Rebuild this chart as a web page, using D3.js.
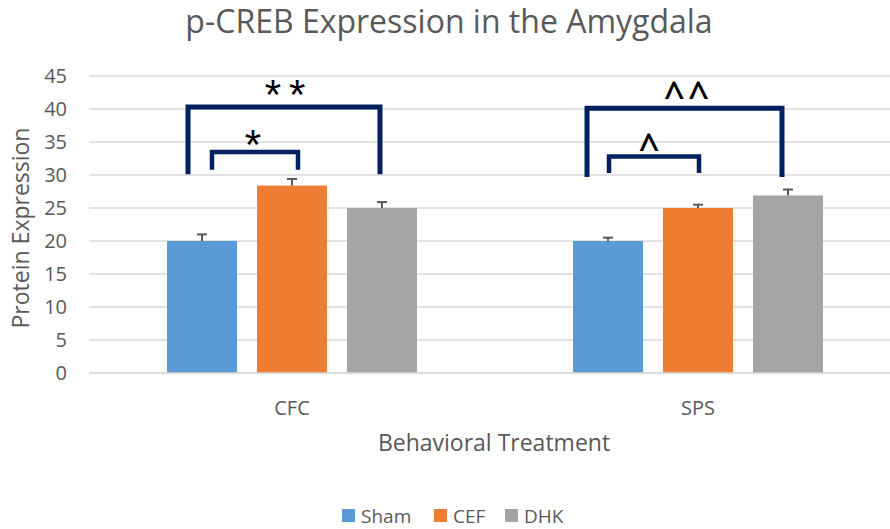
<!DOCTYPE html>
<html>
<head>
<meta charset="utf-8">
<script src="https://cdn.jsdelivr.net/npm/d3@7"></script>
<style>
  body { margin: 0; background: #fff; }
  svg { display: block; font-family: "Open Sans", sans-serif; }
</style>
</head>
<body>
<div id="chart"></div>
<script>
const width = 890;
const height = 529;

// data
const categories = ['CFC', 'SPS'];
const seriesNames = ['Sham', 'CEF', 'DHK'];
const seriesColors = ['#5B9BD5', '#ED7D31', '#A5A5A5'];
const shamValues = [20, 20];
const cefValues = [28.4, 25];
const dhkValues = [25, 26.9];
const shamErrors = [1, 0.5];
const cefErrors = [1, 0.5];
const dhkErrors = [0.9, 0.9];
const yTicks = [0, 5, 10, 15, 20, 25, 30, 35, 40, 45];

// significance brackets (levels in data units)
const bracketGroups = ['CFC', 'CFC', 'SPS', 'SPS'];
const bracketFrom = ['Sham', 'Sham', 'Sham', 'Sham'];
const bracketTo = ['DHK', 'CEF', 'DHK', 'CEF'];
const bracketTop = [40.3, 33.5, 40.1, 32.8];
const bracketBottom = [30.1, 30.8, 29.7, 30.3];
const bracketLabels = ['**', '*', '^^', '^'];

const allValues = [shamValues, cefValues, dhkValues];
const allErrors = [shamErrors, cefErrors, dhkErrors];

const rows = [];
categories.forEach((cat, i) => {
    seriesNames.forEach((s, j) => {
        rows.push({ cat: cat, series: s, value: allValues[j][i], err: allErrors[j][i], color: seriesColors[j] });
    });
});

const plotLeft = 89;
const plotRight = 901;
const plotTop = 76;
const plotBottom = 373;

const x0 = d3.scaleBand().domain(categories).range([plotLeft, plotRight]);
const x1 = d3.scaleBand().domain(seriesNames).range([0, x0.bandwidth()])
    .paddingInner(2 / 9).paddingOuter(0.867);
const yScale = d3.scaleLinear().domain([0, 45]).range([plotBottom, plotTop]);

const svg = d3.select('#chart').append('svg')
    .attr('width', width)
    .attr('height', height);

// gridlines
svg.append('g')
    .selectAll('line')
    .data(yTicks)
    .enter()
    .append('line')
    .attr('x1', plotLeft)
    .attr('x2', width)
    .attr('y1', d => yScale(d))
    .attr('y2', d => yScale(d))
    .attr('stroke', '#D9D9D9')
    .attr('stroke-width', 1.5);

// y axis labels
const yAxis = d3.axisLeft(yScale).tickValues(yTicks).tickSize(0).tickPadding(0);
const yAxisG = svg.append('g')
    .attr('transform', `translate(${plotLeft - 22}, 0)`)
    .call(yAxis);
yAxisG.select('.domain').remove();
yAxisG.selectAll('text')
    .style('font-family', '"Open Sans", sans-serif')
    .style('font-size', '20px')
    .attr('fill', '#595959');

// bars
svg.append('g')
    .selectAll('rect')
    .data(rows)
    .enter()
    .append('rect')
    .attr('x', d => x0(d.cat) + x1(d.series))
    .attr('y', d => yScale(d.value))
    .attr('width', x1.bandwidth())
    .attr('height', d => yScale(0) - yScale(d.value))
    .attr('fill', d => d.color);

// error bars (upper only)
const errG = svg.append('g').attr('stroke', '#595959').attr('stroke-width', 2);
rows.forEach(d => {
    const cx = x0(d.cat) + x1(d.series) + x1.bandwidth() / 2;
    errG.append('line')
        .attr('x1', cx).attr('x2', cx)
        .attr('y1', yScale(d.value)).attr('y2', yScale(d.value + d.err));
    errG.append('line')
        .attr('x1', cx - 5).attr('x2', cx + 5)
        .attr('y1', yScale(d.value + d.err)).attr('y2', yScale(d.value + d.err));
});

// baseline
svg.append('line')
    .attr('x1', plotLeft).attr('x2', width)
    .attr('y1', yScale(0)).attr('y2', yScale(0))
    .attr('stroke', '#D9D9D9').attr('stroke-width', 1.5);

// brackets, hand nudged like the original
const bracketLeftNudge = [-14, 10, -21, 1];
const bracketRightNudge = [-2, 6, -6, 1];
const bracketWidths = [5, 4.5, 5, 4.5];
const labelNudgeX = [1, -2, 2, -5];
const labelFont = ['"Liberation Sans"', '"Liberation Sans"', '"Open Sans"', '"Open Sans"'];
const labelSize = [42, 42, 37, 37];
const labelWeight = [400, 400, 600, 600];
const labelSpacing = [8, 0, 3, 0];
const labelBaseline = [2, 7, 1, 4];

const bracketG = svg.append('g');
bracketLabels.forEach((label, i) => {
    const cat = bracketGroups[i];
    const xl = x0(cat) + x1(bracketFrom[i]) + x1.bandwidth() / 2 + bracketLeftNudge[i];
    const xr = x0(cat) + x1(bracketTo[i]) + x1.bandwidth() / 2 + bracketRightNudge[i];
    const yt = yScale(bracketTop[i]);
    const yb = yScale(bracketBottom[i]);
    bracketG.append('path')
        .attr('d', `M${xl},${yb} L${xl},${yt} L${xr},${yt} L${xr},${yb}`)
        .attr('fill', 'none')
        .attr('stroke', '#002060')
        .attr('stroke-width', bracketWidths[i])
        .attr('stroke-linejoin', 'miter');
    const mid = (xl + xr) / 2 + labelNudgeX[i];
    bracketG.append('text')
        .attr('x', mid + labelSpacing[i] / 2)
        .attr('y', yt + labelBaseline[i])
        .attr('text-anchor', 'middle')
        .style('font-family', labelFont[i] + ', sans-serif')
        .style('font-size', labelSize[i] + 'px')
        .style('font-weight', labelWeight[i])
        .style('letter-spacing', labelSpacing[i] + 'px')
        .attr('fill', '#000')
        .text(label);
});

// x category labels
svg.append('g')
    .selectAll('text')
    .data(categories)
    .enter()
    .append('text')
    .attr('x', d => x0(d) + x0.bandwidth() / 2)
    .attr('y', 415)
    .attr('text-anchor', 'middle')
    .style('font-size', '20px')
    .attr('fill', '#595959')
    .text(d => d);

// axis titles
svg.append('text')
    .attr('x', 494)
    .attr('y', 451)
    .attr('text-anchor', 'middle')
    .style('font-size', '23px')
    .attr('fill', '#595959')
    .text('Behavioral Treatment');

svg.append('text')
    .attr('transform', `translate(29, 228) rotate(-90)`)
    .attr('text-anchor', 'middle')
    .style('font-size', '23px')
    .attr('fill', '#595959')
    .text('Protein Expression');

// title
svg.append('text')
    .attr('x', 449)
    .attr('y', 33)
    .attr('text-anchor', 'middle')
    .style('font-size', '32px')
    .attr('fill', '#595959')
    .text('p-CREB Expression in the Amygdala');

// legend
const legendX = [342, 434, 505];
const legend = svg.append('g');
seriesNames.forEach((s, j) => {
    legend.append('rect')
        .attr('x', legendX[j]).attr('y', 509)
        .attr('width', 13).attr('height', 13)
        .attr('fill', seriesColors[j]);
    legend.append('text')
        .attr('x', legendX[j] + 19).attr('y', 523)
        .style('font-size', '19px')
        .attr('fill', '#595959')
        .text(s);
});
</script>
</body>
</html>
